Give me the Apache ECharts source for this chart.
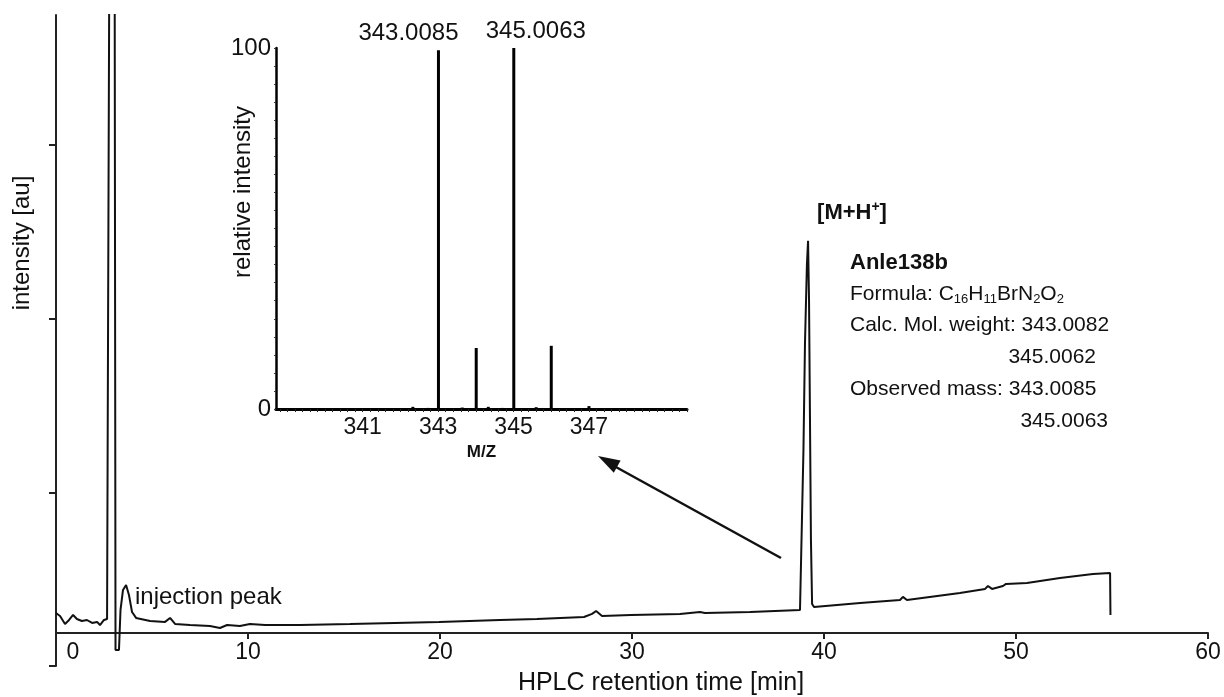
<!DOCTYPE html>
<html>
<head>
<meta charset="utf-8">
<script src="https://cdn.jsdelivr.net/npm/echarts@6/dist/echarts.min.js"></script>
<style>
html, body { margin: 0; padding: 0; background: #fff; }
#chart { width: 1224px; height: 697px; }
</style>
</head>
<body>
<div id="chart"></div>
<script>
// HPLC trace, retention time [min] vs signal [au]
const rtTime = [0.00, 0.21, 0.47, 0.68, 0.89, 1.09, 1.35, 1.61, 1.88, 2.14, 2.29, 2.50, 2.66, 2.73, 2.79,
  3.05, 3.10, 3.28, 3.36, 3.49, 3.65, 3.80, 3.96, 4.17, 4.90, 5.68, 5.94, 6.20, 6.98, 8.02, 8.54, 8.91,
  9.58, 10.10, 10.89, 12.71, 15.31, 19.95, 23.13, 25.05, 27.50, 27.92, 28.13, 28.44, 29.95, 32.5, 33.54,
  33.8, 36.15, 38.75, 38.85, 38.93, 39.01, 39.11, 39.17, 39.22, 39.27, 39.32, 39.38, 39.48, 41.88, 43.96,
  44.11, 44.32, 47.08, 48.39, 48.54, 48.75, 49.32, 49.48, 50.57, 52.29, 54.01, 54.90, 54.92];
const rtSignal = [0.305, 0.288, 0.242, 0.265, 0.294, 0.271, 0.259, 0.265, 0.248, 0.254, 0.236, 0.265, 0.271, 0.277, 4.5,
  4.5, 0.092, 0.092, 0.323, 0.438, 0.467, 0.409, 0.311, 0.277, 0.259, 0.254, 0.277, 0.242, 0.236, 0.231, 0.219, 0.236,
  0.231, 0.242, 0.236, 0.236, 0.242, 0.254, 0.265, 0.271, 0.282, 0.3, 0.317, 0.288, 0.294, 0.3, 0.311,
  0.305, 0.311, 0.323, 0.323, 1.245, 1.862, 2.311, 2.45, 2.109, 1.418, 0.726, 0.357, 0.34, 0.363, 0.38,
  0.398, 0.38, 0.421, 0.444, 0.461, 0.444, 0.461, 0.473, 0.478, 0.507, 0.53, 0.536, 0.294];
const rtTicks = [0, 10, 20, 30, 40, 50, 60];
const signalTicks = [0, 1, 2, 3];

// mass spectrum inset
const mzValues = [342.33, 342.73, 343.0085, 343.64, 344.01, 344.33, 344.7, 345.0063, 345.6, 346.0, 347.0];
const mzIntensity = [0.6, 0.3, 99.4, 0.4, 16.9, 0.6, 0.3, 100, 0.5, 17.5, 0.8];
const mzLabelled = [343.0085, 345.0063];
const mzTickLabels = [341, 343, 345, 347];
const relTickLabels = [0, 100];

const FONT = '"Liberation Sans", Arial, sans-serif';
const INK = '#111';

const labelShift = { '343.0085': -30, '345.0063': 22 };
const minorMz = [];
for (let m = 338.8; m < 349.6; m += 0.2) minorMz.push(+m.toFixed(1));
const minorRel = [];
for (let r = 0; r <= 100; r += 5) minorRel.push(r);

const spectrum = mzValues.map((m, i) => {
  const item = { value: [m, mzIntensity[i]] };
  if (mzLabelled.includes(m)) {
    item.label = {
      show: true, position: 'top', distance: 5,
      offset: [labelShift[String(m)], 0],
      formatter: m.toFixed(4), fontSize: 24, color: INK, fontFamily: FONT
    };
  }
  return item;
});

const chart = echarts.init(document.getElementById('chart'));
chart.setOption({
  animation: false,
  backgroundColor: '#fff',
  textStyle: { fontFamily: FONT, color: INK },
  grid: [
    { left: 56, right: 16, top: 15, bottom: 31 },
    { left: 276, top: 48, width: 411, height: 361 }
  ],
  xAxis: [
    {
      gridIndex: 0, type: 'value', min: 0, max: 60, interval: 10,
      position: 'bottom', offset: -33,
      axisLine: { onZero: false, lineStyle: { color: '#222', width: 2 } },
      axisTick: { length: 6, customValues: rtTicks, lineStyle: { color: '#222', width: 2 } },
      axisLabel: {
        customValues: rtTicks, fontSize: 23, color: INK, margin: 8,
        formatter: v => (v === 0 ? '{z|0}' : String(v)),
        rich: { z: { fontSize: 23, padding: [0, 0, 0, 34] } }
      },
      splitLine: { show: false }
    },
    {
      gridIndex: 1, type: 'value', min: 338.7, max: 349.6,
      axisLine: { onZero: false, lineStyle: { color: '#000', width: 3 } },
      axisTick: { customValues: minorMz, length: 3, lineStyle: { color: '#222', width: 1 } },
      axisLabel: { customValues: mzTickLabels, fontSize: 23, color: INK, margin: 7 },
      splitLine: { show: false },
      name: 'M/Z', nameLocation: 'middle', nameGap: 27,
      nameTextStyle: { fontSize: 17, fontWeight: 'bold', color: INK }
    }
  ],
  yAxis: [
    {
      gridIndex: 0, type: 'value', min: 0, max: 3.75,
      axisLine: { show: true, lineStyle: { color: '#222', width: 2 } },
      axisTick: { show: true, length: 7, customValues: signalTicks, lineStyle: { color: '#222', width: 2 } },
      axisLabel: { show: false },
      splitLine: { show: false }
    },
    {
      gridIndex: 1, type: 'value', min: 0, max: 100,
      axisLine: { show: true, lineStyle: { color: '#000', width: 2.5 } },
      axisTick: { show: true, customValues: minorRel, length: 2, lineStyle: { color: '#333', width: 1 } },
      axisLabel: { customValues: relTickLabels, fontSize: 24, color: INK, margin: 5 },
      splitLine: { show: false }
    }
  ],
  series: [
    {
      type: 'line', xAxisIndex: 0, yAxisIndex: 0,
      data: rtTime.map((t, i) => [t, rtSignal[i]]),
      showSymbol: false, clip: true,
      lineStyle: { color: INK, width: 2 }
    },
    {
      type: 'bar', xAxisIndex: 1, yAxisIndex: 1,
      data: spectrum, barWidth: 3,
      itemStyle: { color: '#000' }
    }
  ],
  graphic: [
    {
      type: 'text', x: 661, y: 683,
      style: { text: 'HPLC retention time [min]', font: '25px ' + FONT, fill: INK, align: 'center', verticalAlign: 'middle' }
    },
    {
      type: 'text', x: 22, y: 243, rotation: Math.PI / 2,
      style: { text: 'intensity [au]', font: '24px ' + FONT, fill: INK, align: 'center', verticalAlign: 'middle' }
    },
    {
      type: 'text', x: 243, y: 192, rotation: Math.PI / 2,
      style: { text: 'relative intensity', font: '24px ' + FONT, fill: INK, align: 'center', verticalAlign: 'middle' }
    },
    {
      type: 'text', x: 135, y: 597,
      style: { text: 'injection peak', font: '24px ' + FONT, fill: INK, align: 'left', verticalAlign: 'middle' }
    },
    {
      type: 'text', x: 852, y: 213,
      style: {
        text: '{b|[M+H}{s|+}{b|]}', align: 'center', verticalAlign: 'middle',
        rich: {
          b: { fontSize: 22, fontWeight: 'bold', fontFamily: FONT, fill: INK, lineHeight: 26 },
          s: { fontSize: 14, fontWeight: 'bold', fontFamily: FONT, fill: INK, verticalAlign: 'top', lineHeight: 26 }
        }
      }
    },
    {
      type: 'text', x: 850, y: 263,
      style: { text: 'Anle138b', font: 'bold 22px ' + FONT, fill: INK, align: 'left', verticalAlign: 'middle' }
    },
    {
      type: 'text', x: 850, y: 294,
      style: {
        text: '{n|Formula: C}{s|16}{n|H}{s|11}{n|BrN}{s|2}{n|O}{s|2}',
        align: 'left', verticalAlign: 'middle',
        rich: {
          n: { fontSize: 21, fontFamily: FONT, fill: INK, lineHeight: 24 },
          s: { fontSize: 13, fontFamily: FONT, fill: INK, verticalAlign: 'bottom', lineHeight: 24 }
        }
      }
    },
    {
      type: 'text', x: 850, y: 325,
      style: { text: 'Calc. Mol. weight: 343.0082', font: '21px ' + FONT, fill: INK, align: 'left', verticalAlign: 'middle' }
    },
    {
      type: 'text', x: 1096, y: 357,
      style: { text: '345.0062', font: '21px ' + FONT, fill: INK, align: 'right', verticalAlign: 'middle' }
    },
    {
      type: 'text', x: 850, y: 389,
      style: { text: 'Observed mass: 343.0085', font: '21px ' + FONT, fill: INK, align: 'left', verticalAlign: 'middle' }
    },
    {
      type: 'text', x: 1108, y: 421,
      style: { text: '345.0063', font: '21px ' + FONT, fill: INK, align: 'right', verticalAlign: 'middle' }
    },
    {
      type: 'line', shape: { x1: 781, y1: 558, x2: 615, y2: 466.5 },
      style: { stroke: INK, lineWidth: 2.5 }
    },
    {
      type: 'polygon', shape: { points: [[598, 456], [620.6, 460.6], [613.8, 472.8]] },
      style: { fill: INK }
    }
  ]
});
</script>
</body>
</html>
